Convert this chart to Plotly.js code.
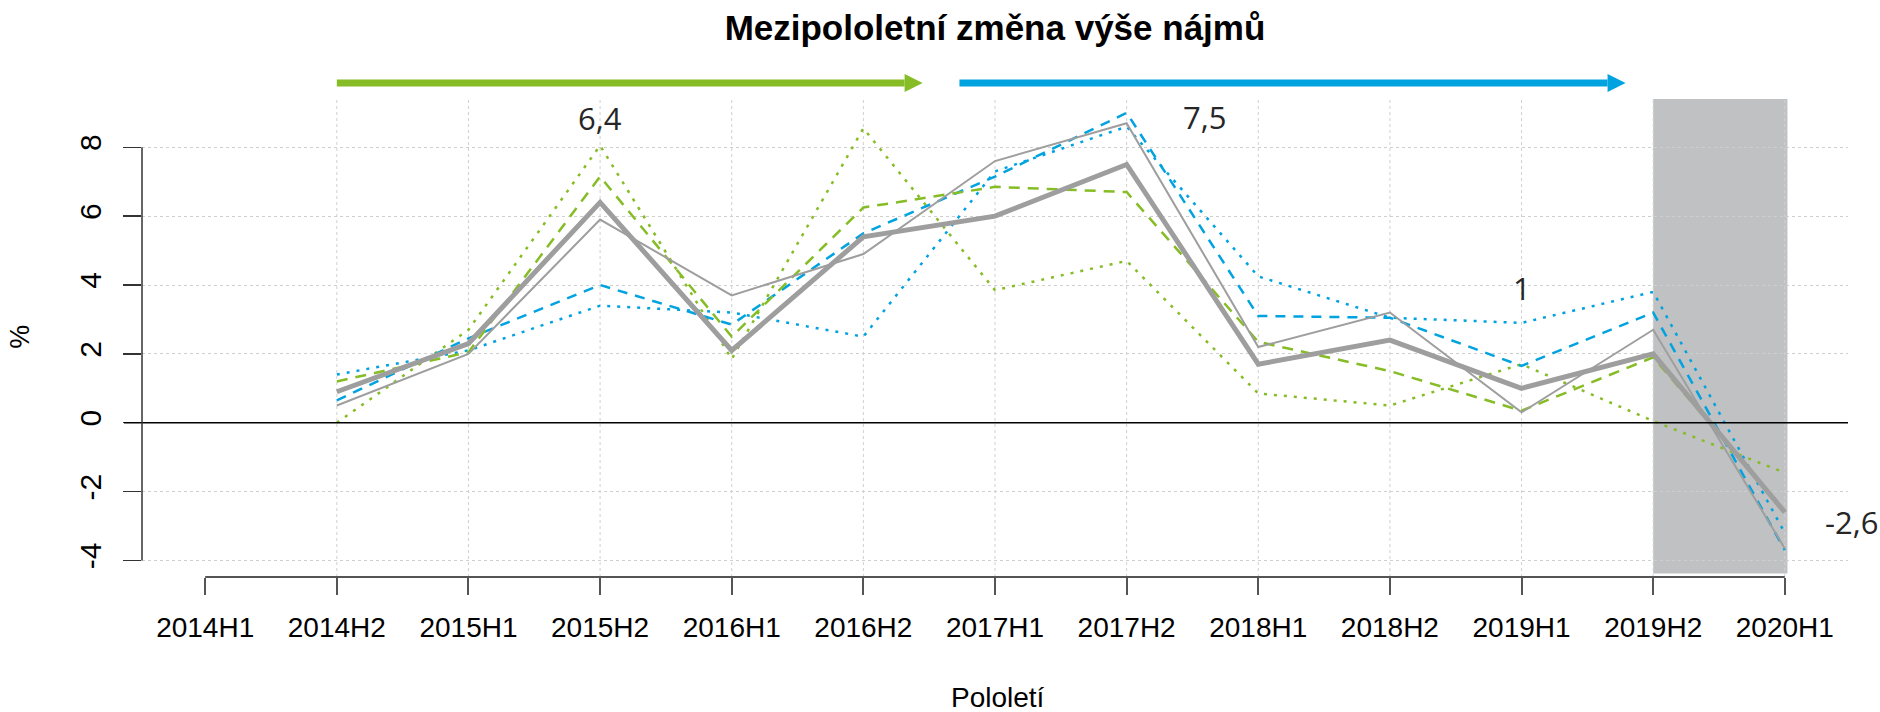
<!DOCTYPE html>
<html>
<head>
<meta charset="utf-8">
<script src="https://cdn.plot.ly/plotly-3.0.1.min.js"></script>
<style>html,body{margin:0;padding:0;background:#fff}#chart{width:1880px;height:712px}</style>
</head>
<body>
<div id="chart"></div>
<script>
// ---- data ----
const categories = ['2014H1','2014H2','2015H1','2015H2','2016H1','2016H2','2017H1','2017H2','2018H1','2018H2','2019H1','2019H2','2020H1'];
const thickGray   = [null, 0.9, 2.3, 6.4, 2.1, 5.4, 6.0, 7.5, 1.7, 2.4, 1.0, 2.0, -2.6];
const thinGray    = [null, 0.5, 2.0, 5.9, 3.7, 4.9, 7.6, 8.7, 2.2, 3.2, 0.3, 2.7, -3.65];
const greenDashed = [null, 1.2, 2.05, 7.15, 2.5, 6.25, 6.85, 6.7, 2.35, 1.5, 0.35, 1.9, -2.55];
const greenDotted = [null, 0.0, 2.7, 8.05, 1.85, 8.55, 3.85, 4.7, 0.85, 0.5, 1.7, 0.05, -1.45];
const blueDashed  = [null, 0.65, 2.45, 4.0, 2.85, 5.5, 7.15, 9.0, 3.1, 3.05, 1.65, 3.2, -3.7];
const blueDotted  = [null, 1.4, 2.1, 3.4, 3.2, 2.5, 7.3, 8.6, 4.25, 3.05, 2.9, 3.8, -3.2];
const yTicks = [-4, -2, 0, 2, 4, 6, 8];
const labelIdx = [3, 7, 10, 12];          // points of the thick line that carry value labels
const titleText = 'Mezipololetní změna výše nájmů';
const xTitle = 'Pololetí';
const yTitle = '%';

// ---- layout helpers ----
const W = 1880, H = 712;
const M = {l: 142, r: 32, t: 97, b: 135};
const PW = W - M.l - M.r, PH = H - M.t - M.b;
const xRange = [-0.48, 12.48];
const yRange = [-4.48, 9.46];
const xp = i => (i - xRange[0]) / (xRange[1] - xRange[0]);
const yp = v => (v - yRange[0]) / (yRange[1] - yRange[0]);

const GREEN = '#86BC25', BLUE = '#00A3E0', GRAY = '#9E9E9E';
const FONT = 'Liberation Sans, Arial, sans-serif';

function tr(y, color, width, dash) {
  return {x: categories, y: y, type: 'scatter', mode: 'lines', showlegend: false,
          hoverinfo: 'skip', line: {color: color, width: width, dash: dash}};
}
const traces = [
  tr(blueDotted, BLUE, 2.5, '3px,7px'),
  tr(greenDotted, GREEN, 2.5, '3px,7px'),
  tr(blueDashed, BLUE, 2.5, '10px,8px'),
  tr(greenDashed, GREEN, 2.5, '11px,8px'),
  tr(thinGray, GRAY, 2, 'solid'),
  tr(thickGray, GRAY, 5, 'solid')
];

const shapes = [];
// shaded forecast period
shapes.push({type: 'rect', xref: 'paper', yref: 'paper', layer: 'below',
  x0: xp(11), x1: xp(12.02), y0: yp(-4.38), y1: yp(9.4),
  fillcolor: '#C0C1C2', line: {width: 0}});
// vertical grid lines
for (let i = 1; i < categories.length; i++) {
  shapes.push({type: 'line', xref: 'paper', yref: 'paper', layer: 'below',
    x0: xp(i), x1: xp(i), y0: 0, y1: yp(9.45),
    line: {color: '#D0D0D0', width: 1, dash: '3px,3px'}});
}
// zero line
shapes.push({type: 'line', xref: 'paper', yref: 'paper', layer: 'above',
  x0: -18 / PW, x1: 1, y0: yp(0), y1: yp(0), line: {color: '#000', width: 1.5}});
// y axis line
shapes.push({type: 'line', xref: 'paper', yref: 'paper', layer: 'above',
  x0: 0, x1: 0, y0: yp(-4), y1: yp(8), line: {color: '#333', width: 1.5}});
// x axis line
shapes.push({type: 'line', xref: 'paper', yref: 'paper', layer: 'above',
  x0: xp(0), x1: xp(12), y0: 0, y1: 0, line: {color: '#555', width: 2}});
// arrows
function arrow(from, to, color) {
  const y = yp(9.87);
  const head = 18 / PW * (xRange[1] - xRange[0]); // head length in index units
  shapes.push({type: 'line', xref: 'paper', yref: 'paper', layer: 'above',
    x0: xp(from), x1: xp(to - head), y0: y, y1: y, line: {color: color, width: 7}});
  const hx0 = xp(to - head), hx1 = xp(to), dh = 9 / PH;
  shapes.push({type: 'path', xref: 'paper', yref: 'paper', layer: 'above',
    path: `M ${hx0} ${y + dh} L ${hx1} ${y} L ${hx0} ${y - dh} Z`,
    fillcolor: color, line: {width: 0}});
}
arrow(1, 5.45, GREEN);
arrow(5.73, 10.79, BLUE);

// value labels
const labelPos = [[0, 8.84], [0.59, 8.87], [0, 3.9], [0.51, -2.87]]; // [x offset, y]
const fmt = v => String(v).replace('.', ',');
const annotations = labelIdx.map((i, k) => ({
  x: xp(i + labelPos[k][0]), y: yp(labelPos[k][1]), xref: 'paper', yref: 'paper',
  xanchor: 'center', yanchor: 'middle',
  text: fmt(thickGray[i]), showarrow: false,
  font: {family: 'Open Sans, sans-serif', size: 31, color: '#262626'}
}));
annotations.push({x: 0.5 * (xp(0) + xp(12)) + 0.002, y: -(697 - (H - M.b)) / PH, xref: 'paper', yref: 'paper',
  xanchor: 'center', yanchor: 'middle',
  text: xTitle, showarrow: false, font: {family: FONT, size: 28, color: '#000'}});
annotations.push({x: (20 - M.l) / PW, y: yp(2.5), xref: 'paper', yref: 'paper',
  xanchor: 'center', yanchor: 'middle', textangle: -90,
  text: yTitle, showarrow: false, font: {family: FONT, size: 27, color: '#000'}});

const layout = {
  width: W, height: H,
  margin: M,
  paper_bgcolor: '#fff', plot_bgcolor: 'rgba(0,0,0,0)',
  title: {text: '<b>' + titleText + '</b>', x: 0.5, xref: 'paper', xanchor: 'center',
          y: 1 - 27.5 / H, yref: 'container', yanchor: 'middle',
          font: {family: FONT, size: 35, color: '#000'}},
  xaxis: {type: 'category', range: xRange, showgrid: false, zeroline: false, showline: false,
          ticks: 'outside', ticklen: 17, tickwidth: 2, tickcolor: '#555',
          tickfont: {family: FONT, size: 28, color: '#000'},
          ticklabelstandoff: 8},
  yaxis: {range: yRange, tickvals: yTicks, ticktext: yTicks.map(String), showgrid: true,
          gridcolor: '#CFCFCF', griddash: '3px,3px', gridwidth: 1, zeroline: false, showline: false,
          ticks: 'outside', ticklen: 18, tickwidth: 1.5, tickcolor: '#333', tickangle: -90,
          tickfont: {family: FONT, size: 30, color: '#000'}, ticklabelstandoff: 10},
  shapes: shapes,
  annotations: annotations
};
Plotly.newPlot('chart', traces, layout, {staticPlot: true, displayModeBar: false});
</script>
</body>
</html>
